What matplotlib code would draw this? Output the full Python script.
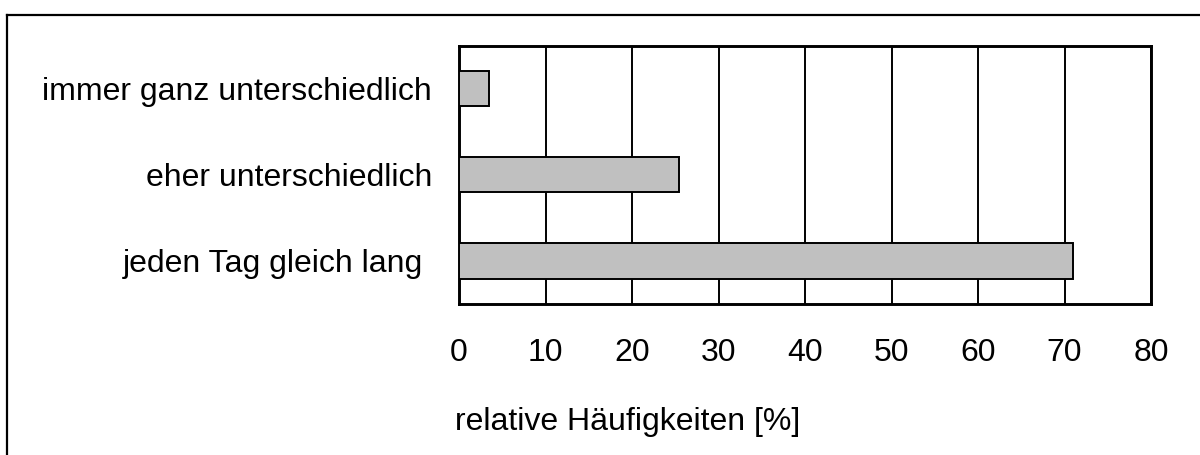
import matplotlib
matplotlib.use("Agg")
import matplotlib.pyplot as plt
from matplotlib.lines import Line2D

# bottom to top, as drawn
categories = ["jeden Tag gleich lang ", "eher unterschiedlich",
              "immer ganz unterschiedlich"]
shares = [71.0, 25.4, 3.5]
xticks = [0, 10, 20, 30, 40, 50, 60, 70, 80]

plt.rcParams["font.family"] = ["Liberation Sans", "DejaVu Sans"]

W, H = 1200, 455
FS = 23
fig = plt.figure(figsize=(W / 100, H / 100), dpi=100)
ax = fig.add_axes([459 / W, 1 - 304 / H, (1151 - 459) / W, (304 - 45.5) / H])

ypos = list(range(len(categories)))
ax.barh(ypos, shares, height=0.41, color="#c0c0c0", edgecolor="black",
        linewidth=1.4, zorder=3)

ax.set_xlim(0, 80)
ax.set_ylim(-0.5, len(categories) - 0.5)
ax.set_xticks(xticks)
ax.set_yticks(ypos)
ax.set_yticklabels(categories)
ax.xaxis.grid(True, color="black", linewidth=1.4, zorder=0)
ax.set_axisbelow(True)
ax.tick_params(axis="x", length=0, pad=24.5, labelsize=FS)
ax.tick_params(axis="y", length=0, pad=19.5, labelsize=FS)
for s in ax.spines.values():
    s.set_linewidth(2.1)

fig.text(455 / W, 1 - 430 / H, "relative Häufigkeiten [%]", fontsize=FS,
         ha="left", va="baseline")

# outer frame, only top and left edges are visible in the crop
fig.add_artist(Line2D([7 / W, 1.0], [1 - 15 / H, 1 - 15 / H],
                      color="black", linewidth=1.6, transform=fig.transFigure))
fig.add_artist(Line2D([7 / W, 7 / W], [1 - 15 / H, 0.0],
                      color="black", linewidth=1.6, transform=fig.transFigure))

fig.savefig("out.png", dpi=100)
